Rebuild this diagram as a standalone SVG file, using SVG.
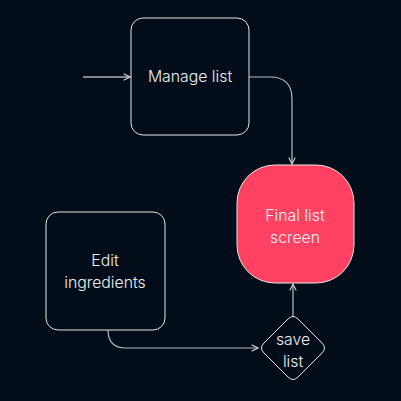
<svg xmlns="http://www.w3.org/2000/svg" width="401" height="401" viewBox="0 0 401 401">
<style>
.node{fill:#020d19;stroke:#e6e6e6;stroke-width:1}
.hot{fill:#ff4264;stroke:#e6e6e6;stroke-width:1}
.lbl{font-family:Inter,"Noto Sans",sans-serif;font-size:15.8px;font-weight:300;fill:#f0f0f0;text-anchor:middle}
.edge{fill:none;stroke:#b8bcc2;stroke-width:1.2}
</style>
<defs>
<marker id="arr" viewBox="0 0 10 10" refX="9" refY="5" markerWidth="8" markerHeight="8" markerUnits="userSpaceOnUse" orient="auto">
<path d="M1,1 L9,5 L1,9" fill="none" stroke="#d0d3d8" stroke-width="1.4"/>
</marker>
</defs>
<rect width="401" height="401" fill="#020d19"/>
<g id="connectors">
<path class="edge" d="M83,77 H130" marker-end="url(#arr)" style="stroke:#ffffff"/>
<path class="edge" d="M249,77 H270 Q292,77 292,99 V164" marker-end="url(#arr)"/>
<path class="edge" d="M108,330 Q108,348 126,348 H258" marker-end="url(#arr)"/>
<path class="edge" d="M293,316 V284" marker-end="url(#arr)"/>
</g>
<g id="manage-list">
<rect class="node" x="131" y="18" width="118" height="117" rx="12"/>
<text class="lbl" x="190" y="82">Manage list</text>
</g>
<g id="final-list-screen">
<rect class="hot" x="237" y="165" width="117" height="118" rx="38"/>
<text class="lbl" x="295" y="221">Final list</text>
<text class="lbl" x="295" y="243">screen</text>
</g>
<g id="edit-ingredients">
<rect class="node" x="46" y="212" width="119" height="118" rx="12"/>
<text class="lbl" x="105" y="266">Edit</text>
<text class="lbl" x="105" y="288">ingredients</text>
</g>
<g id="save-list">
<path class="node" d="M288,319 Q293,314 298,319 L322,343 Q327,348 322,353 L298,377 Q293,382 288,377 L264,353 Q259,348 264,343 Z"/>
<text class="lbl" x="293" y="345">save</text>
<text class="lbl" x="293" y="367">list</text>
</g>
</svg>
